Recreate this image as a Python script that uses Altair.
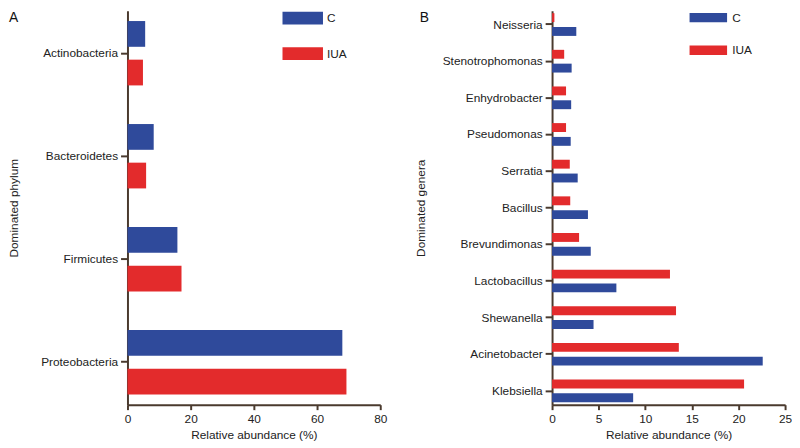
import altair as alt
import pandas as pd

# ---- data ----
groups = ["C", "IUA"]
colors = ["#2f4a9b", "#e32b2c"]

phyla = ["Actinobacteria", "Bacteroidetes", "Firmicutes", "Proteobacteria"]
phyla_c = [5.6, 8.3, 15.8, 68.0]
phyla_iua = [4.9, 5.9, 17.1, 69.3]

genera = ["Neisseria", "Stenotrophomonas", "Enhydrobacter", "Pseudomonas", "Serratia",
          "Bacillus", "Brevundimonas", "Lactobacillus", "Shewanella", "Acinetobacter",
          "Klebsiella"]
genera_c = [2.6, 2.1, 2.05, 2.0, 2.75, 3.85, 4.15, 6.9, 4.45, 22.6, 8.7]
genera_iua = [0.25, 1.3, 1.5, 1.5, 1.9, 1.95, 2.9, 12.65, 13.3, 13.6, 20.6]

x_ticks_a = [0, 20, 40, 60, 80]
x_ticks_b = [0, 5, 10, 15, 20, 25]

df_a = pd.DataFrame({
    "taxon": phyla * 2,
    "group": ["C"] * len(phyla) + ["IUA"] * len(phyla),
    "value": phyla_c + phyla_iua,
})
df_b = pd.DataFrame({
    "taxon": genera * 2,
    "group": ["C"] * len(genera) + ["IUA"] * len(genera),
    "value": genera_c + genera_iua,
})

AX = "#4a3a2e"
FONT = "Liberation Sans"
TXT = "#222222"

color_scale = alt.Scale(domain=groups, range=colors)


def panel(df, cats, xticks, letter, ytitle, width, yext, ytpad, ypi, ypo, offpi,
          offsort, legx, legy, symw, symh, rowpad, letter_x):
    # rectangle legend symbol: unit = symh px, drawn from entry origin rightwards
    r = 2 * symw / symh - 1
    sym = f"M-1,-1L{r:.3f},-1L{r:.3f},1L-1,1Z"
    bars = alt.Chart(df).mark_bar().encode(
        x=alt.X("value:Q",
                scale=alt.Scale(domain=[xticks[0], xticks[-1]], nice=False, zero=True),
                axis=alt.Axis(values=xticks, tickSize=5, labelPadding=4, labelFlush=False,
                              titlePadding=5, title="Relative abundance (%)")),
        y=alt.Y("taxon:N", sort=cats,
                scale=alt.Scale(paddingInner=ypi, paddingOuter=ypo),
                axis=alt.Axis(title=ytitle, tickSize=7, labelPadding=3,
                              minExtent=yext, maxExtent=yext, titlePadding=ytpad)),
        yOffset=alt.YOffset("group:N", sort=offsort,
                            scale=alt.Scale(paddingInner=offpi, paddingOuter=0)),
        color=alt.Color("group:N", scale=color_scale,
                        legend=alt.Legend(orient="none", legendX=legx, legendY=legy,
                                          title=None, symbolType=sym,
                                          symbolSize=symh * symh,
                                          symbolStrokeWidth=0, symbolOpacity=1,
                                          labelFontSize=12,
                                          labelOffset=symw + 4 - symh,
                                          labelColor=TXT, rowPadding=rowpad,
                                          labelFont=FONT)),
    )
    lab = alt.Chart(pd.DataFrame({"panel": [letter]})).mark_text(
        align="left", baseline="middle", fontSize=14, font=FONT, color="#111111"
    ).encode(text="panel:N", x=alt.value(letter_x), y=alt.value(7))
    return alt.layer(bars, lab).properties(width=width, height=399)


a = panel(df_a, phyla, x_ticks_a, "A", "Dominated phylum", 256, 87, 21,
          0.375, 0.10, 0.333, ["C", "IUA"], 157, 1, 41, 13, 23, -120)
b = panel(df_b, genera, x_ticks_b, "B", "Dominated genera", 236, 110, 16,
          0.38, 0.067, 0.357, ["IUA", "C"], 138, 1, 38, 9.5, 21, -134)

chart = alt.hconcat(a, b, spacing=28).resolve_scale(
    x="independent", y="independent", yOffset="independent"
).resolve_legend(color="independent").properties(
    padding={"left": 0, "top": 0, "right": 0, "bottom": 0}
).configure(font=FONT).configure_view(stroke=None).configure_axis(
    domainColor=AX, domainWidth=2, tickColor=AX, tickWidth=2, grid=False,
    labelFont=FONT, labelFontSize=12, labelColor=TXT,
    titleFont=FONT, titleFontSize=12, titleFontWeight="normal", titleColor=TXT,
)

chart.save("out.html", embed_options={"renderer": "svg", "actions": False})
